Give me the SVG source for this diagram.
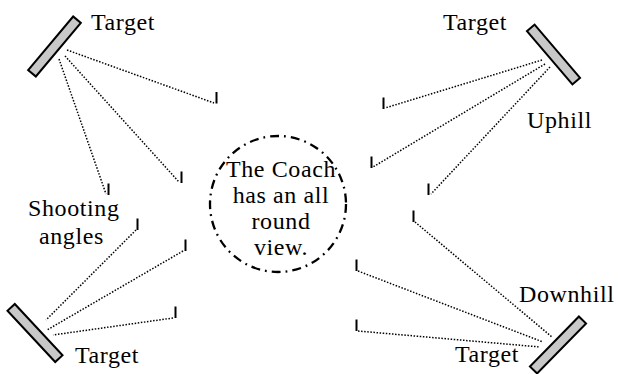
<svg xmlns="http://www.w3.org/2000/svg" width="618" height="374" viewBox="0 0 618 374">
<style>
text{font-family:"Liberation Serif","DejaVu Serif",serif;font-size:24px;fill:#000;letter-spacing:0.6px}
.tgt{fill:#c8c8c8;stroke:#000;stroke-width:2}
.dot{stroke:#000;stroke-width:1.5;stroke-dasharray:1.5 1.6;fill:none}
.tick{stroke:#000;stroke-width:2;fill:none}
.coach{fill:none;stroke:#000;stroke-width:2.3;stroke-dasharray:9 5 1.8 5}
</style>
<rect width="618" height="374" fill="#fff"/>
<g font-family="Liberation Serif, DejaVu Serif, serif">
<g id="target-tl">
<rect class="tgt" x="-35" y="-5" width="70" height="10" transform="translate(54.5,46.5) rotate(-50)"/>
<text x="91" y="30">Target</text>
</g>
<g id="target-tr">
<rect class="tgt" x="-35" y="-5" width="70" height="10" transform="translate(553.5,54.5) rotate(49.5)"/>
<text x="443" y="30">Target</text>
</g>
<g id="target-bl">
<rect class="tgt" x="-35" y="-5" width="70" height="10" transform="translate(35,333) rotate(47)"/>
<text x="75" y="363">Target</text>
</g>
<g id="target-br">
<rect class="tgt" x="-35" y="-5" width="70" height="10" transform="translate(558,345) rotate(-45.6)"/>
<text x="455" y="362">Target</text>
</g>
<g id="coach">
<circle class="coach" cx="278" cy="204" r="68"/>
<text x="281" y="177" text-anchor="middle">The Coach</text>
<text x="281" y="203" text-anchor="middle">has an all</text>
<text x="281" y="229" text-anchor="middle">round</text>
<text x="281" y="255" text-anchor="middle">view.</text>
</g>
<g id="label-uphill"><text x="527" y="128">Uphill</text></g>
<g id="label-downhill"><text x="519" y="302">Downhill</text></g>
<g id="label-shooting"><text x="28" y="216">Shooting</text><text x="39" y="244">angles</text></g>
</g>
<g id="connectors">
<line class="dot" x1="67" y1="50" x2="214" y2="103"/>
<line class="tick" x1="216.5" y1="92" x2="216.5" y2="103.5"/>
<line class="dot" x1="65" y1="56" x2="179" y2="182"/>
<line class="tick" x1="181.5" y1="171.5" x2="181.5" y2="183"/>
<line class="dot" x1="59" y1="59" x2="106" y2="194"/>
<line class="tick" x1="108.5" y1="183.5" x2="108.5" y2="195"/>
<line class="dot" x1="542" y1="60" x2="385" y2="108"/>
<line class="tick" x1="383.5" y1="97.5" x2="383.5" y2="109"/>
<line class="dot" x1="545" y1="64" x2="373" y2="167"/>
<line class="tick" x1="371.5" y1="156.5" x2="371.5" y2="168"/>
<line class="dot" x1="550" y1="67" x2="431" y2="194"/>
<line class="tick" x1="428.5" y1="183.5" x2="428.5" y2="195"/>
<line class="dot" x1="415" y1="222" x2="552" y2="337"/>
<line class="tick" x1="413.5" y1="210.5" x2="413.5" y2="222"/>
<line class="dot" x1="358" y1="271" x2="543" y2="342"/>
<line class="tick" x1="356.5" y1="259.5" x2="356.5" y2="271"/>
<line class="dot" x1="358" y1="331" x2="540" y2="347"/>
<line class="tick" x1="356.5" y1="319.5" x2="356.5" y2="331"/>
<line class="dot" x1="136" y1="230" x2="46" y2="320"/>
<line class="tick" x1="137.5" y1="218.5" x2="137.5" y2="230"/>
<line class="dot" x1="183" y1="251" x2="47" y2="330"/>
<line class="tick" x1="185.5" y1="239.5" x2="185.5" y2="251"/>
<line class="dot" x1="173" y1="318" x2="53" y2="335"/>
<line class="tick" x1="175.5" y1="306.5" x2="175.5" y2="318"/>
</g>
</svg>
